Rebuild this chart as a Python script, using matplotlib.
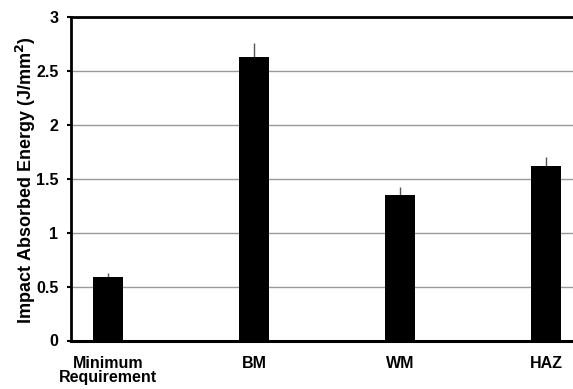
import matplotlib
matplotlib.use("Agg")
import matplotlib.pyplot as plt
import numpy as np

categories = ["Minimum\nRequirement", "BM", "WM", "HAZ"]
values = [0.59, 2.63, 1.35, 1.62]
errors = [0.035, 0.13, 0.07, 0.085]
yticks = [0, 0.5, 1, 1.5, 2, 2.5, 3]
ytick_labels = ["0", "0.5", "1", "1.5", "2", "2.5", "3"]

plt.rcParams['font.family'] = ['Liberation Sans', 'DejaVu Sans']

fig = plt.figure(figsize=(5.73, 3.89), dpi=100)
ax = fig.add_axes([71/573, 48.5/389, 1 - 71/573, (340.5-17)/389])

x = np.arange(len(categories))
ax.bar(x, values, width=0.2, color='black', zorder=3)
ax.errorbar(x, values, yerr=[np.zeros(len(errors)), errors], fmt='none',
            ecolor='#555555', elinewidth=1, capsize=0, zorder=2)

ax.set_xlim(-0.253, 3.185)
ax.set_ylim(0, 3)
ax.set_yticks(yticks)
ax.set_yticklabels(ytick_labels, fontsize=11.5, fontweight='bold')
ax.set_xticks(x)
ax.set_xticklabels(categories, fontsize=11.5, fontweight='bold', linespacing=0.95)
ax.tick_params(axis='x', length=0, pad=11)
ax.tick_params(axis='y', length=3, width=1.5, direction='out', pad=6)
ax.yaxis.grid(True, color='#999999', linewidth=1, zorder=0)
ax.set_axisbelow(True)

ax.spines['right'].set_visible(False)
ax.spines['left'].set_linewidth(2)
ax.spines['bottom'].set_linewidth(2.2)
ax.spines['top'].set_linewidth(2)

ax.set_ylabel("Impact Absorbed Energy (J/mm$^\\mathbf{2}$)", fontsize=13, fontweight='bold')
ax.yaxis.set_label_coords(-0.066, 0.496)

fig.savefig("out.png", dpi=100)
